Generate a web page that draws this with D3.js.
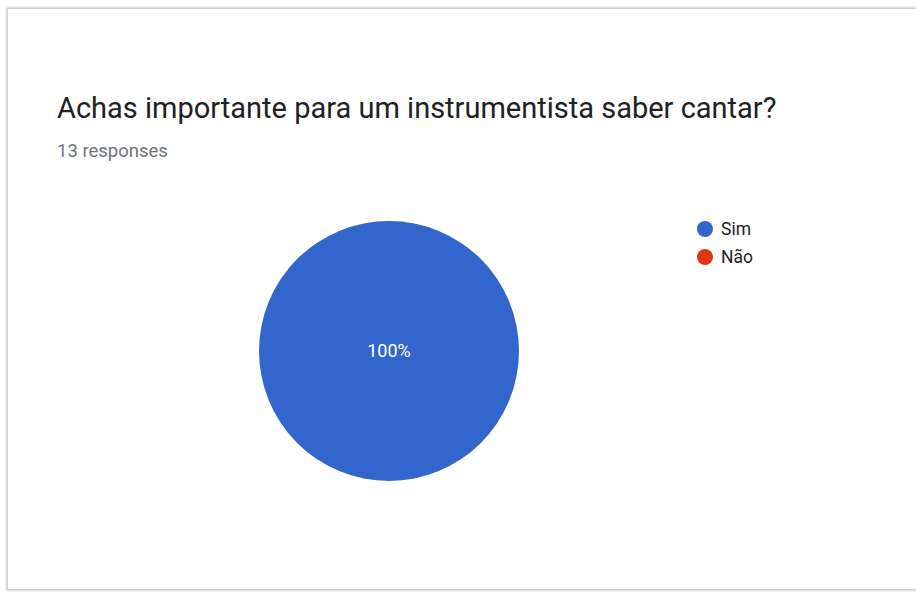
<!DOCTYPE html>
<html>
<head>
<meta charset="utf-8">
<script src="https://cdn.jsdelivr.net/npm/d3@7"></script>
<style>
  html, body { margin: 0; padding: 0; background: #fff; }
  svg { display: block; font-family: Roboto, Arial, sans-serif; }
</style>
</head>
<body>
<svg id="chart" width="916" height="592"></svg>
<script>
// Survey question and answers
const title = "Achas importante para um instrumentista saber cantar?";
const subtitle = "13 responses";
const categories = ["Sim", "Não"];
const values = [13, 0];
const colors = ["#3366cc", "#dc3912"];

const svg = d3.select("#chart");

// card frame with soft shadow
const defs = svg.append("defs");
const f = defs.append("filter").attr("id", "shadow").attr("x", "-5%").attr("y", "-5%").attr("width", "110%").attr("height", "110%");
f.append("feDropShadow").attr("dx", 0).attr("dy", 0).attr("stdDeviation", 1.6).attr("flood-color", "#000").attr("flood-opacity", 0.35);

svg.append("rect")
  .attr("x", 7.5).attr("y", 8.5).attr("width", 930).attr("height", 581)
  .attr("fill", "#fff").attr("stroke", "#d0d0d0").attr("stroke-width", 1)
  .attr("filter", "url(#shadow)");

svg.append("text")
  .attr("x", 57).attr("y", 118)
  .attr("font-size", 29).attr("fill", "#202124")
  .text(title);

svg.append("text")
  .attr("x", 57).attr("y", 157)
  .attr("font-size", 18.5).attr("fill", "#70757a")
  .text(subtitle);

// pie
const cx = 389, cy = 351, r = 130;
const total = d3.sum(values);
const pie = d3.pie().sort(null).value(d => d.value);
const data = categories.map((c, i) => ({ name: c, value: values[i], color: colors[i] }));
const arcs = pie(data);
const arc = d3.arc().innerRadius(0).outerRadius(r);

const g = svg.append("g").attr("transform", `translate(${cx},${cy})`);
g.selectAll("path")
  .data(arcs.filter(a => a.data.value > 0))
  .join("path")
  .attr("d", arc)
  .attr("fill", d => d.data.color);

// percentage labels
g.selectAll("text.pct")
  .data(arcs.filter(a => a.data.value > 0))
  .join("text")
  .attr("class", "pct")
  .attr("transform", d => {
    if (d.endAngle - d.startAngle >= 2 * Math.PI - 1e-6) return "translate(0,0)";
    const c = d3.arc().innerRadius(r * 0.6).outerRadius(r * 0.6).centroid(d);
    return `translate(${c[0]},${c[1]})`;
  })
  .attr("text-anchor", "middle")
  .attr("dy", "0.35em")
  .attr("font-size", 18)
  .attr("fill", "#ffffff")
  .text(d => d3.format(".0%")(d.data.value / total));

// legend
const legend = svg.append("g").attr("transform", "translate(705,229)");
const item = legend.selectAll("g")
  .data(data)
  .join("g")
  .attr("transform", (d, i) => `translate(0,${i * 28})`);
item.append("circle").attr("r", 8).attr("fill", d => d.color);
item.append("text")
  .attr("x", 16).attr("dy", "0.35em")
  .attr("font-size", 17.5).attr("fill", "#222")
  .text(d => d.name);
</script>
</body>
</html>
